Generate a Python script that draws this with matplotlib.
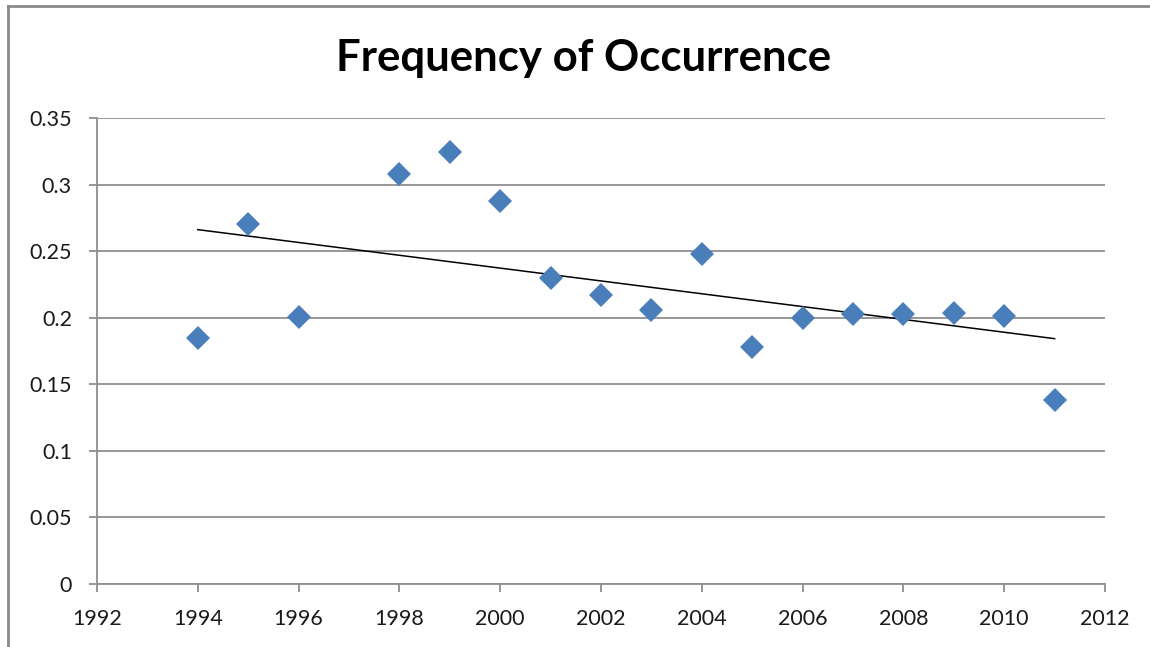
import numpy as np
import matplotlib
matplotlib.use("Agg")
import matplotlib.pyplot as plt
from matplotlib.lines import Line2D

plt.rcParams['font.family'] = ['Lato', 'DejaVu Sans']

# data
years = [1994, 1995, 1996, 1998, 1999, 2000, 2001, 2002, 2003,
         2004, 2005, 2006, 2007, 2008, 2009, 2010, 2011]
freq = [0.185, 0.2705, 0.2005, 0.308, 0.3245, 0.288, 0.230, 0.2168, 0.2055,
        0.2475, 0.178, 0.200, 0.2025, 0.2025, 0.2033, 0.201, 0.1385]
xticks = [1992, 1994, 1996, 1998, 2000, 2002, 2004, 2006, 2008, 2010, 2012]
yticks = [0, 0.05, 0.1, 0.15, 0.2, 0.25, 0.3, 0.35]
ytick_labels = ['0', '0.05', '0.1', '0.15', '0.2', '0.25', '0.3', '0.35']

W, H = 1150, 647
fig = plt.figure(figsize=(W / 100, H / 100), dpi=100)
ax = fig.add_axes([97 / W, 1 - 584 / H, (1105 - 97) / W, (584 - 118) / H])

grid_c = '#8f8f8f'
ax.set_xlim(1992, 2012)
ax.set_ylim(0, 0.35)
ax.set_yticks(yticks)
ax.set_yticklabels(ytick_labels)
ax.set_xticks(xticks)
ax.yaxis.grid(True, color=grid_c, lw=1.3)
ax.set_axisbelow(True)
for s in ['top', 'right']:
    ax.spines[s].set_visible(False)
for s in ['left', 'bottom']:
    ax.spines[s].set_color(grid_c)
    ax.spines[s].set_linewidth(1.3)
ax.tick_params(axis='both', direction='out', length=6, width=1.3,
               color=grid_c, labelsize=15.5, labelcolor='#1a1a1a')
ax.tick_params(axis='x', pad=12)
ax.tick_params(axis='y', pad=12)

# linear trendline
slope, icpt = np.polyfit(years, freq, 1)
tx = np.array([years[0], years[-1]])
ax.plot(tx, slope * tx + icpt, color='black', lw=1.1, zorder=2)

ax.plot(years, freq, linestyle='none', marker='D', markersize=12.5,
        color='#4a7ebb', markeredgewidth=0, zorder=3, clip_on=False)

fig.text(584 / W, 1 - 58 / H, 'Frequency of Occurrence', ha='center',
         va='center', fontsize=31.5, fontweight='bold', color='black')

# outer chart border (top and left visible)
fig.add_artist(Line2D([8 / W, 8 / W], [0, 1 - 6 / H], transform=fig.transFigure,
                      color='#8a8a8a', lw=2))
fig.add_artist(Line2D([8 / W, 1], [1 - 6 / H, 1 - 6 / H], transform=fig.transFigure,
                      color='#8a8a8a', lw=2))

fig.savefig('out.png', dpi=100)
